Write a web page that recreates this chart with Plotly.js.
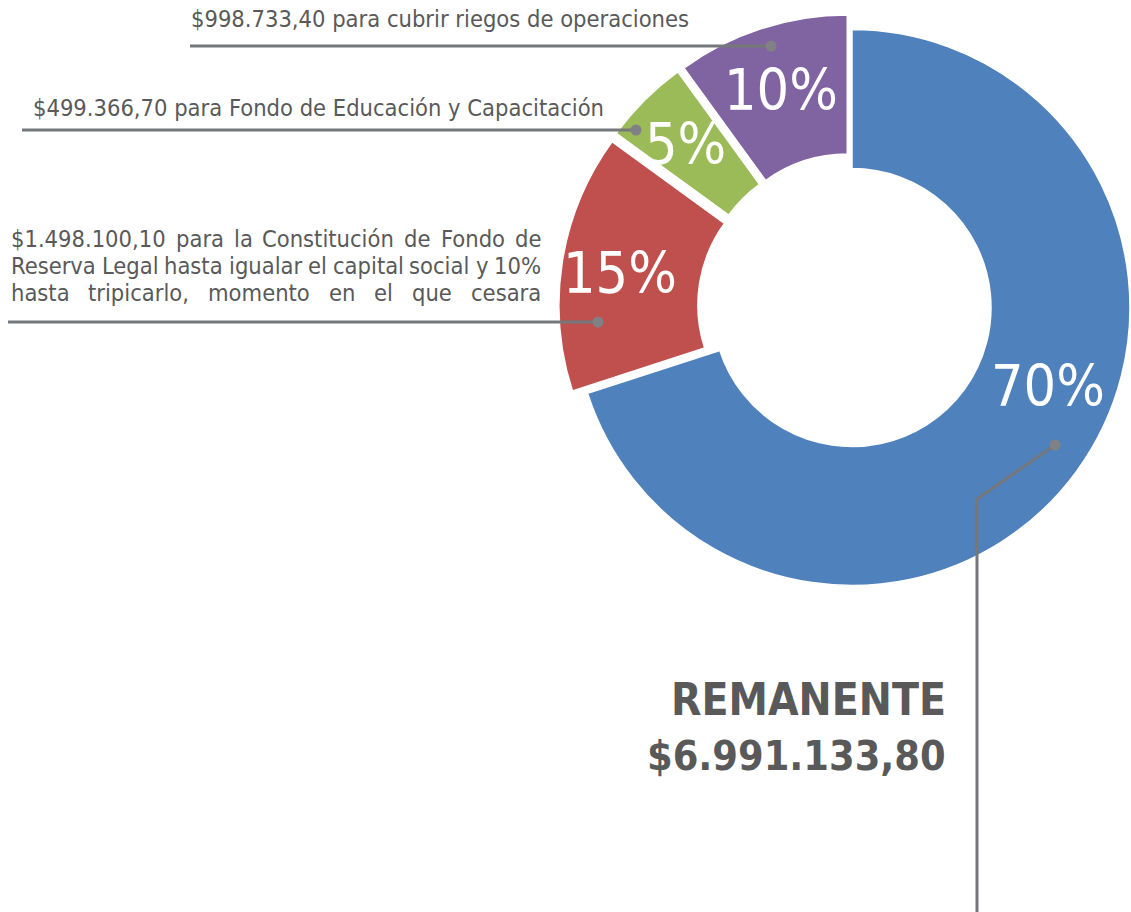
<!DOCTYPE html>
<html>
<head>
<meta charset="utf-8">
<script src="https://cdn.plot.ly/plotly-3.0.1.min.js"></script>
<style>
  html, body { margin: 0; padding: 0; overflow: hidden; background: #fff; }
  #chart { width: 1160px; height: 912px; }
</style>
</head>
<body>
<div id="chart"></div>
<script>
// ---------------- DATA ----------------
const CATEGORIES = ['Remanente', 'Fondo de Reserva Legal', 'Fondo de Educación y Capacitación', 'Riesgos de operaciones'];
const VALUES = [6991133.80, 1498100.10, 499366.70, 998733.40];
const TOTAL_TITLE = 'REMANENTE';
const DESC_RIESGOS = ' para cubrir riegos de operaciones';
const DESC_EDUCACION = ' para Fondo de Educación y Capacitación';
const DESC_RESERVA_LINES = [
  ' para la Constitución de Fondo de',
  'Reserva Legal hasta igualar el capital social y 10%',
  'hasta tripicarlo, momento en el que cesara'
];

// ---------------- STYLE ----------------
const W = 1160, H = 912;
const COLORS = ['#4F81BD', '#C0504D', '#9BBB59', '#8064A2'];
const PULLS = [0, 0.055, 0.055, 0.055];
const FONT = "'Liberation Sans Narrow', 'DejaVu Sans Condensed', 'Roboto Condensed', Lato, sans-serif";
const GREY_TEXT = '#595959';
const GREY_LINE = '#75777A';
const GREY_DOT = '#808184';
const CX = 852, CY = 307.5, R = 278;
const PCT_POS = [[1048, 386], [620, 273], [685, 144], [781, 90]];

const px = p => p / W;
const py = p => 1 - p / H;

function fmtMoney(v) {
  const parts = v.toFixed(2).split('.');
  return '$' + parts[0].replace(/\B(?=(\d{3})+(?!\d))/g, '.') + ',' + parts[1];
}

const total = VALUES.reduce((a, b) => a + b, 0);
const maxPull = Math.max(...PULLS);
const half = R * (1 + maxPull);

const trace = {
  type: 'pie',
  values: VALUES,
  labels: CATEGORIES,
  sort: false,
  direction: 'clockwise',
  rotation: 0,
  hole: 0.5,
  pull: PULLS,
  marker: { colors: COLORS, line: { color: '#ffffff', width: 1.5 } },
  textinfo: 'none',
  hoverinfo: 'label+percent',
  domain: { x: [px(CX - half), px(CX + half)], y: [py(CY + half), py(CY - half)] }
};

const annotations = [];
const shapes = [];

// percentages
VALUES.forEach((v, i) => {
  annotations.push({
    xref: 'paper', yref: 'paper', x: px(PCT_POS[i][0]), y: py(PCT_POS[i][1]),
    xanchor: 'center', yanchor: 'middle', showarrow: false,
    text: Math.round(v / total * 100) + '%',
    font: { family: FONT, size: 57, color: '#ffffff', weight: 300 }
  });
});

const LBL_SIZE = 23.5;
function textAnn(text, x, yc, anchor, size, bold) {
  annotations.push({
    xref: 'paper', yref: 'paper', x: px(x), y: py(yc), xanchor: anchor, yanchor: 'middle',
    showarrow: false, text: bold ? '<b>' + text + '</b>' : text,
    font: { family: FONT, size: size, color: GREY_TEXT }
  });
}

// measure text for justification
const ctx = document.createElement('canvas').getContext('2d');
ctx.font = LBL_SIZE + 'px ' + FONT;
function justify(line, x0, x1, yc) {
  const words = line.split(' ');
  const widths = words.map(w => ctx.measureText(w).width);
  const sum = widths.reduce((a, b) => a + b, 0);
  const sp = ctx.measureText(' ').width;
  const gap = words.length > 1 ? Math.max((x1 - x0 - sum) / (words.length - 1), sp * 0.6) : 0;
  let x = x0;
  words.forEach((w, k) => {
    textAnn(w, x, yc, 'left', LBL_SIZE, false);
    x += widths[k] + gap;
  });
}

// label 1 (purple)
textAnn(fmtMoney(VALUES[3]) + DESC_RIESGOS, 189, 19, 'left', LBL_SIZE, false);
// label 2 (green)
textAnn(fmtMoney(VALUES[2]) + DESC_EDUCACION, 31, 108, 'left', LBL_SIZE, false);
// label 3 (red), justified
const resLines = [fmtMoney(VALUES[1]) + DESC_RESERVA_LINES[0], DESC_RESERVA_LINES[1], DESC_RESERVA_LINES[2]];
[239, 266, 293].forEach((yc, k) => justify(resLines[k], 9, 539, yc));
// remanente
textAnn(TOTAL_TITLE, 948, 699, 'right', 44, true);
textAnn(fmtMoney(VALUES[0]), 948, 756, 'right', 41, true);

// leader lines
function line(x0, y0, x1, y1) {
  shapes.push({ type: 'line', xref: 'paper', yref: 'paper', x0: px(x0), y0: py(y0), x1: px(x1), y1: py(y1),
    line: { color: GREY_LINE, width: 3 } });
}
function dot(x, y) {
  const r = 5.5;
  shapes.push({ type: 'circle', xref: 'paper', yref: 'paper', x0: px(x - r), x1: px(x + r), y0: py(y + r), y1: py(y - r),
    fillcolor: GREY_DOT, line: { width: 0 } });
}
line(190, 46, 771, 46); dot(771, 46);
line(22, 130, 636, 130); dot(636, 130);
line(8, 322, 598, 322); dot(598, 322);
line(1055, 445, 977, 499); line(977, 499, 977, 915); dot(1055, 445);

const layout = {
  width: W, height: H,
  margin: { l: 0, r: 0, t: 0, b: 0 },
  paper_bgcolor: '#ffffff', plot_bgcolor: '#ffffff',
  showlegend: false,
  annotations: annotations,
  shapes: shapes
};

Plotly.newPlot('chart', [trace], layout, { displayModeBar: false, staticPlot: true });
</script>
</body>
</html>
